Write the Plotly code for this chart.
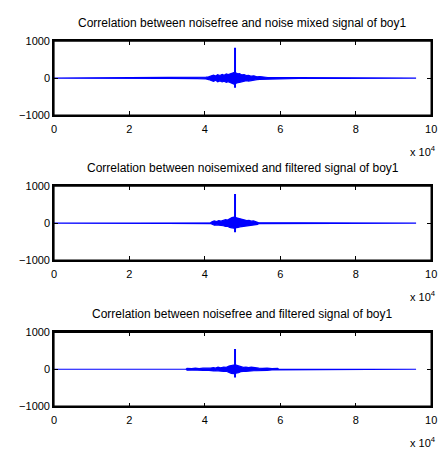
import plotly.graph_objects as go

# ---- data ----
titles = [
    "Correlation between noisefree and noise mixed signal of boy1",
    "Correlation between noisemixed and filtered signal of boy1",
    "Correlation between noisefree and filtered signal of boy1",
]
x_tick_vals = [0, 20000, 40000, 60000, 80000, 100000]
x_tick_text = ["0", "2", "4", "6", "8", "10"]
y_tick_vals = [-1000, 0, 1000]
y_tick_text = ["\u22121000", "0", "1000"]

# envelope of the correlation signal (lag index, upper, lower)
env_x1 = [0, 22000, 30000, 38000, 40300, 41000, 41800, 42300, 42900, 43400, 44000, 44600, 45100, 45700,
          46200, 46800, 47300, 47700, 48300, 48700, 49200, 49800, 50400, 51000, 51600, 52300, 53000,
          53800, 54600, 55500, 56700, 65000, 76000, 77000, 95999]
env_hi1 = [0, 6, 10, 14, 25, 35, 60, 80, 55, 90, 70, 100, 75, 110,
           95, 125, 140, 150, 135, 115, 120, 85, 95, 65, 75, 50, 60,
           35, 40, 25, 15, 10, 6, 0, 0]
env_lo1 = [0, -6, -10, -14, -25, -40, -65, -90, -60, -100, -75, -105, -85, -115,
           -100, -130, -145, -160, -140, -125, -115, -95, -90, -70, -80, -55, -55,
           -40, -35, -25, -15, -10, -6, 0, 0]
spike1 = [-260, 820]

env_x2 = [0, 12700, 30000, 41500, 41900, 42500, 43100, 43700, 44300, 44900, 45500, 46000, 46600,
          47200, 47700, 48300, 48800, 49300, 49900, 50500, 51100, 51700, 52300, 52900, 53500,
          54000, 54300, 65000, 78000, 79000, 95999]
env_hi2 = [0, 6, 8, 10, 35, 60, 45, 70, 55, 75, 95, 85, 125,
           150, 165, 150, 125, 115, 90, 95, 70, 75, 55, 60, 45,
           35, 10, 8, 6, 0, 0]
env_lo2 = [0, -6, -8, -10, -35, -55, -45, -65, -60, -70, -90, -80, -115,
           -125, -135, -130, -115, -100, -85, -90, -65, -70, -55, -55, -40,
           -35, -10, -8, -6, 0, 0]
spike2 = [-245, 790]

env_x3 = [0, 35000, 35300, 36500, 37500, 38500, 39500, 40500, 41500, 42300, 42800, 43500, 44200,
          45000, 45700, 46400, 47000, 47600, 48300, 48900, 49500, 50200, 50900, 51600, 52300,
          53000, 53700, 54300, 55300, 56500, 57800, 59300, 59600, 95999]
env_hi3 = [0, 0, 25, 15, 28, 18, 30, 20, 30, 45, 30, 55, 40,
           60, 50, 85, 100, 115, 110, 90, 65, 50, 60, 45, 55,
           40, 45, 30, 22, 30, 18, 22, 0, 0]
env_lo3 = [0, 0, -25, -18, -28, -20, -30, -22, -30, -45, -35, -50, -45,
           -60, -55, -90, -110, -120, -115, -95, -65, -55, -55, -50, -50,
           -40, -40, -30, -25, -28, -18, -20, 0, 0]
spike3 = [-220, 545]
spike_lag = 48000

envelopes = [(env_x1, env_hi1, env_lo1, spike1),
             (env_x2, env_hi2, env_lo2, spike2),
             (env_x3, env_hi3, env_lo3, spike3)]

# ---- layout geometry (pixels) ----
W, H = 446, 459
ax_left, ax_right = 52, 437
ax_tops = [36, 185, 335]
ax_h = 76
font = "Liberation Sans, Arial, Helvetica, sans-serif"
blue = "#0000ff"

fig = go.Figure()
annotations = []
shapes = []
for i, (ex, ehi, elo, sp) in enumerate(envelopes):
    n = "" if i == 0 else str(i + 1)
    xa, ya = "x" + n, "y" + n
    fig.add_trace(go.Scatter(
        x=ex + ex[::-1], y=ehi + elo[::-1], mode="lines", fill="toself",
        fillcolor=blue, line=dict(color=blue, width=1.2), xaxis=xa, yaxis=ya,
        showlegend=False, hoverinfo="skip"))
    fig.add_trace(go.Scatter(
        x=[spike_lag, spike_lag], y=sp, mode="lines",
        line=dict(color=blue, width=2), xaxis=xa, yaxis=ya, showlegend=False))

    top = ax_tops[i]
    bot = top + ax_h
    dom_y = [1 - bot / H, 1 - top / H]
    axis_common = dict(showline=True, linecolor="#000000", linewidth=1.5, mirror="ticks",
                       ticks="inside", ticklen=4, tickcolor="#000000", tickwidth=1.3,
                       showgrid=False, zeroline=False, layer="above traces",
                       tickfont=dict(family=font, size=11, color="black"))
    fig.update_layout(**{
        "xaxis" + n: dict(domain=[ax_left / W, ax_right / W], range=[0, 100000],
                          tickvals=x_tick_vals, ticktext=x_tick_text,
                          anchor=ya, ticklabelstandoff=3, **axis_common),
        "yaxis" + n: dict(domain=dom_y, range=[-1000, 1000],
                          tickvals=y_tick_vals, ticktext=y_tick_text,
                          anchor=xa, **axis_common),
    })
    # axes box
    shapes.append(dict(type="rect", xref=xa + " domain", yref=ya + " domain",
                       x0=0, x1=1, y0=0, y1=1, line=dict(color="black", width=1.3),
                       fillcolor="rgba(0,0,0,0)", layer="above"))
    annotations.append(dict(
        text=titles[i], xref="paper", yref="paper",
        x=(ax_left + ax_right) / 2 / W, y=1 - (top - 19) / H,
        xanchor="center", yanchor="middle", showarrow=False,
        font=dict(family=font, size=12, color="black")))
    annotations.append(dict(
        text="x 10<sup>4</sup>", xref="paper", yref="paper",
        x=444 / W, y=1 - (bot + 37) / H, xanchor="right", yanchor="middle",
        showarrow=False, font=dict(family=font, size=11, color="black")))

fig.update_layout(width=W, height=H, margin=dict(l=0, r=0, t=0, b=0),
                  paper_bgcolor="white", plot_bgcolor="white",
                  annotations=annotations, shapes=shapes, showlegend=False)
fig.write_html("out.html")
